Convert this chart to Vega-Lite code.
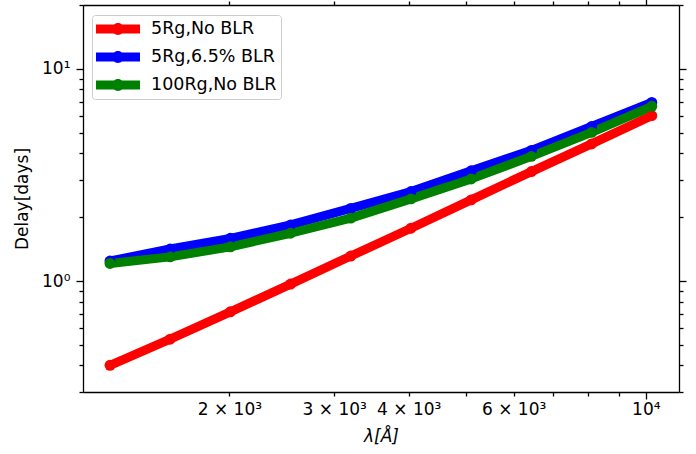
{
  "$schema": "https://vega.github.io/schema/vega-lite/v6.json",
  "width": 596,
  "height": 387,
  "autosize": "none",
  "padding": {"left": 83, "top": 5, "right": 17, "bottom": 62},
  "background": "white",
  "config": {
    "view": {"stroke": null},
    "font": "DejaVu Sans",
    "axis": {
      "labelFont": "DejaVu Sans",
      "titleFont": "DejaVu Sans",
      "labelFontSize": 17,
      "titleFontSize": 17,
      "titleFontWeight": "normal",
      "labelColor": "black",
      "titleColor": "black",
      "domainColor": "black",
      "tickColor": "black",
      "domainWidth": 1.3,
      "tickWidth": 1.3,
      "grid": false,
      "labelFlush": false,
      "labelOverlap": false
    }
  },
  "data": {
    "values": [
      {"series": "5Rg,No BLR", "wl": 1261, "delay": 0.401},
      {"series": "5Rg,No BLR", "wl": 1591, "delay": 0.532},
      {"series": "5Rg,No BLR", "wl": 2008, "delay": 0.716},
      {"series": "5Rg,No BLR", "wl": 2534, "delay": 0.968},
      {"series": "5Rg,No BLR", "wl": 3198, "delay": 1.312},
      {"series": "5Rg,No BLR", "wl": 4036, "delay": 1.774},
      {"series": "5Rg,No BLR", "wl": 5093, "delay": 2.413},
      {"series": "5Rg,No BLR", "wl": 6427, "delay": 3.28},
      {"series": "5Rg,No BLR", "wl": 8110, "delay": 4.43},
      {"series": "5Rg,No BLR", "wl": 10235, "delay": 6.02},
      {"series": "5Rg,6.5% BLR", "wl": 1261, "delay": 1.243},
      {"series": "5Rg,6.5% BLR", "wl": 1591, "delay": 1.416},
      {"series": "5Rg,6.5% BLR", "wl": 2008, "delay": 1.59},
      {"series": "5Rg,6.5% BLR", "wl": 2534, "delay": 1.84},
      {"series": "5Rg,6.5% BLR", "wl": 3198, "delay": 2.2},
      {"series": "5Rg,6.5% BLR", "wl": 4036, "delay": 2.64},
      {"series": "5Rg,6.5% BLR", "wl": 5093, "delay": 3.31},
      {"series": "5Rg,6.5% BLR", "wl": 6427, "delay": 4.13},
      {"series": "5Rg,6.5% BLR", "wl": 8110, "delay": 5.35},
      {"series": "5Rg,6.5% BLR", "wl": 10235, "delay": 6.95},
      {"series": "100Rg,No BLR", "wl": 1261, "delay": 1.21},
      {"series": "100Rg,No BLR", "wl": 1591, "delay": 1.3},
      {"series": "100Rg,No BLR", "wl": 2008, "delay": 1.45},
      {"series": "100Rg,No BLR", "wl": 2534, "delay": 1.68},
      {"series": "100Rg,No BLR", "wl": 3198, "delay": 1.98},
      {"series": "100Rg,No BLR", "wl": 4036, "delay": 2.44},
      {"series": "100Rg,No BLR", "wl": 5093, "delay": 3.03},
      {"series": "100Rg,No BLR", "wl": 6427, "delay": 3.87},
      {"series": "100Rg,No BLR", "wl": 8110, "delay": 5.02},
      {"series": "100Rg,No BLR", "wl": 10235, "delay": 6.66}
    ]
  },
  "layer": [
    {
      "mark": {"type": "line", "strokeWidth": 9, "strokeJoin": "round", "strokeCap": "round"},
      "encoding": {
        "x": {
          "field": "wl", "type": "quantitative",
          "scale": {"type": "log", "domain": [1136, 11370], "nice": false, "zero": false},
          "axis": {
            "orient": "bottom", "values": [10000], "labelExpr": "'10⁴'",
            "tickSize": 7, "labelPadding": 2, "title": "λ[Å]", "titleFontStyle": "italic",
            "titlePadding": 11
          }
        },
        "y": {
          "field": "delay", "type": "quantitative",
          "scale": {"type": "log", "domain": [0.3, 20], "nice": false, "zero": false},
          "axis": {
            "orient": "left", "values": [1, 10],
            "labelExpr": "datum.value == 1 ? '10⁰' : '10¹'",
            "tickSize": 7, "labelPadding": 6, "title": "Delay[days]", "titlePadding": 10
          }
        },
        "color": {
          "field": "series", "type": "nominal",
          "scale": {
            "domain": ["5Rg,No BLR", "5Rg,6.5% BLR", "100Rg,No BLR"],
            "range": ["#ff0000", "#0000ff", "#008000"]
          },
          "legend": {
            "title": null,
            "orient": "none",
            "legendX": 9,
            "legendY": 10,
            "symbolType": "M-1,-0.2H1V0.2H-1Z M-0.27,0A0.27,0.27 0 1,1 0.27,0A0.27,0.27 0 1,1 -0.27,0Z",
            "symbolSize": 1936,
            "symbolStrokeWidth": 0,
            "clipHeight": 20,
            "rowPadding": 8,
            "labelOffset": 11,
            "labelFont": "DejaVu Sans",
            "labelFontSize": 17.5,
            "labelColor": "black",
            "padding": 4,
            "fillColor": "rgba(255,255,255,0.8)",
            "strokeColor": "#cccccc",
            "cornerRadius": 3,
            "encode": {
              "symbols": {
                "update": {
                  "fill": {"scale": "color", "field": "value"},
                  "stroke": {"value": "transparent"},
                  "opacity": {"value": 1}
                }
              }
            }
          }
        }
      }
    },
    {
      "mark": {"type": "point", "filled": true, "size": 120, "opacity": 1},
      "encoding": {
        "x": {
          "field": "wl", "type": "quantitative",
          "axis": {
            "orient": "bottom", "values": [2000, 3000, 4000, 5000, 6000, 7000, 8000, 9000],
            "labelExpr": "indexof([2000, 3000, 4000, 6000], datum.value) >= 0 ? (datum.value / 1000) + ' × 10³' : ''",
            "tickSize": 4, "labelPadding": 5, "domain": false, "title": null
          }
        },
        "y": {
          "field": "delay", "type": "quantitative",
          "axis": {
            "orient": "left", "values": [0.3, 0.4, 0.5, 0.6, 0.7, 0.8, 0.9, 2, 3, 4, 5, 6, 7, 8, 9, 20],
            "labels": false, "tickSize": 4, "domain": false, "title": null
          }
        },
        "color": {"field": "series", "type": "nominal"}
      }
    },
    {
      "mark": {"type": "point", "opacity": 0},
      "encoding": {
        "x": {
          "field": "wl", "type": "quantitative",
          "axis": {"orient": "top", "values": [10000], "labels": false, "tickSize": 7, "title": null}
        },
        "y": {
          "field": "delay", "type": "quantitative",
          "axis": {"orient": "right", "values": [1, 10], "labels": false, "tickSize": 7, "title": null}
        }
      }
    },
    {
      "mark": {"type": "point", "opacity": 0},
      "encoding": {
        "x": {
          "field": "wl", "type": "quantitative",
          "axis": {
            "orient": "top", "values": [2000, 3000, 4000, 5000, 6000, 7000, 8000, 9000],
            "labels": false, "tickSize": 4, "domain": false, "title": null
          }
        },
        "y": {
          "field": "delay", "type": "quantitative",
          "axis": {
            "orient": "right", "values": [0.3, 0.4, 0.5, 0.6, 0.7, 0.8, 0.9, 2, 3, 4, 5, 6, 7, 8, 9, 20],
            "labels": false, "tickSize": 4, "domain": false, "title": null
          }
        }
      }
    }
  ],
  "resolve": {"axis": {"x": "independent", "y": "independent"}}
}
